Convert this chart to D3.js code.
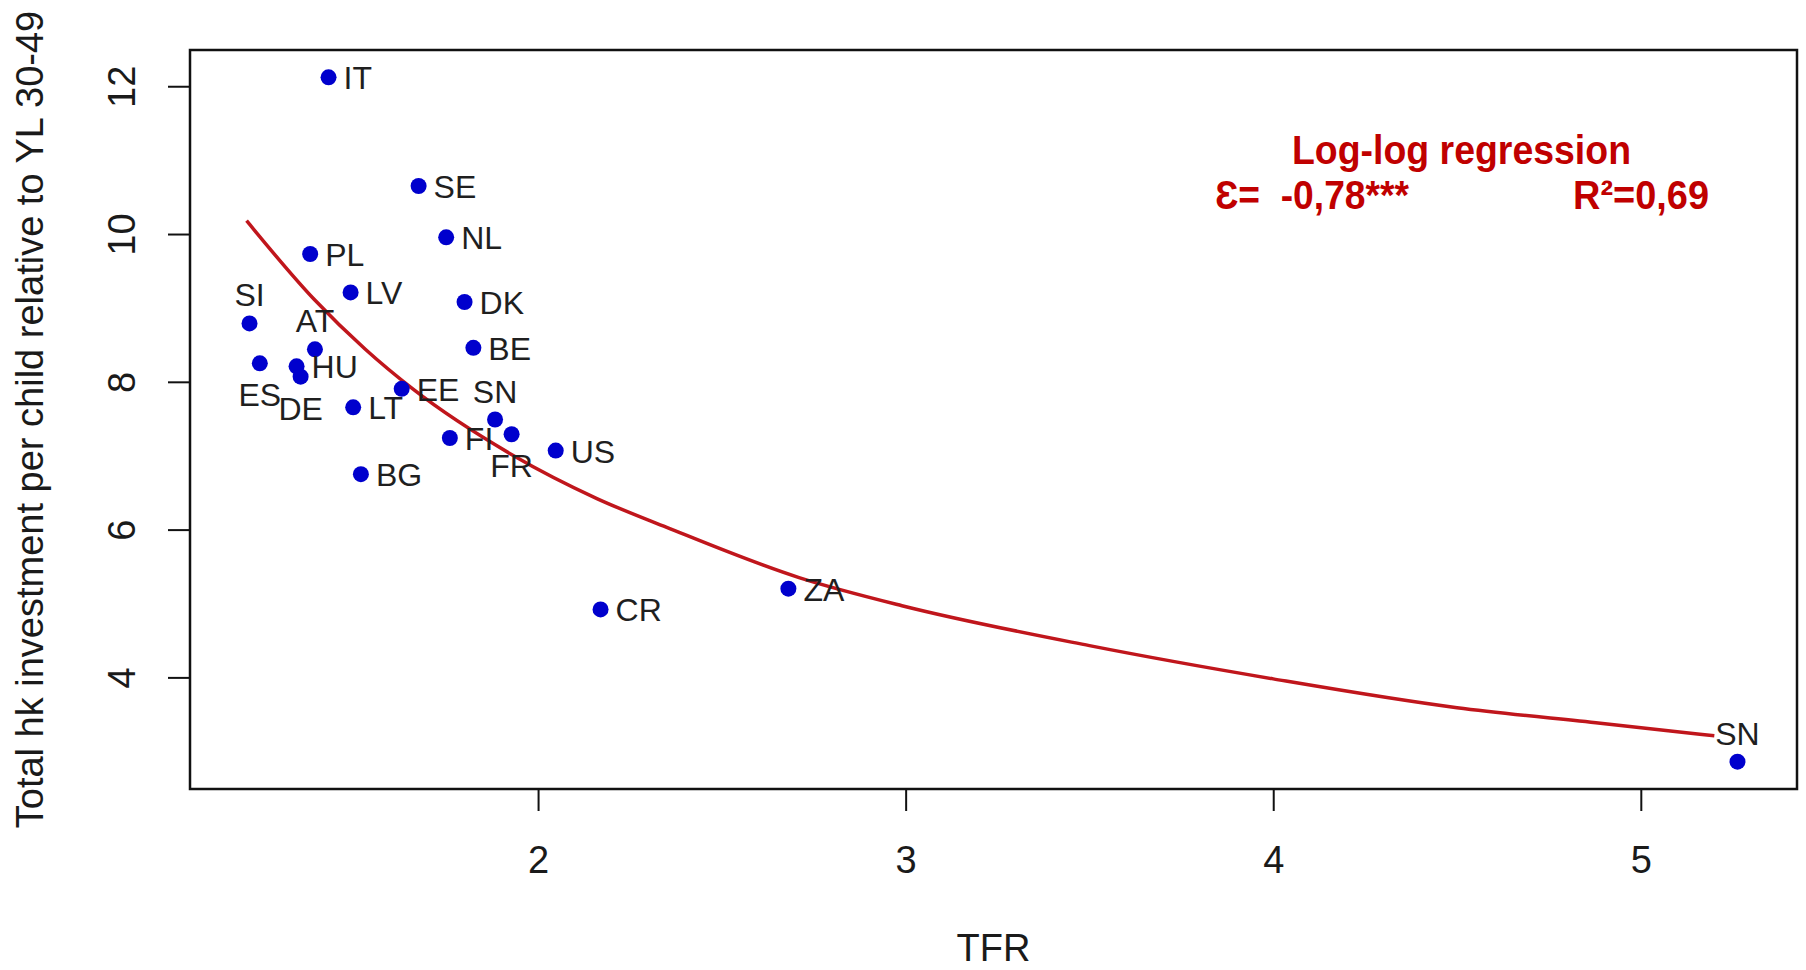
<!DOCTYPE html>
<html><head><meta charset="utf-8">
<script src="https://cdn.jsdelivr.net/npm/d3@7"></script>
<style>
html,body{margin:0;padding:0;background:#fff;}
svg{display:block;}
text{font-family:"Liberation Sans", Arial, sans-serif;}
</style></head><body>
<svg id="chart" width="1806" height="970"></svg>
<script>
// ---- data ----
const countries = ["IT","SE","NL","PL","LV","DK","SI","AT","BE","ES","HU","DE","EE","LT","SN","FR","FI","US","BG","CR","ZA","SN"];
const tfr = [1.43,1.675,1.75,1.38,1.49,1.80,1.215,1.393,1.824,1.243,1.343,1.354,1.629,1.497,1.883,1.928,1.76,2.048,1.518,2.17,2.681,5.263];
const investment = [12.12,10.65,9.955,9.73,9.21,9.08,8.79,8.44,8.46,8.25,8.21,8.07,7.905,7.655,7.49,7.29,7.24,7.07,6.75,4.92,5.20,2.86];
const labelSide = ["right","right","right","right","right","right","above","above","right","below","right","below","right","right","above","below","right","right","right","right","right","above"];
// fitted log-log regression curve, read at points along the drawn line
const fitTFR = [1.207,1.39,1.53,1.66,1.93,2.16,2.35,2.71,2.99,3.5,4.0,4.5,4.89,5.2];
const fitInvestment = [10.18,9.12,8.44,7.90,7.01,6.42,6.03,5.35,4.97,4.43,3.98,3.59,3.38,3.21];
const xTicks = [2,3,4,5];
const yTicks = [4,6,8,10,12];
const xLabel = "TFR";
const yLabel = "Total hk investment per child relative to YL 30-49";
const annoTitle = "Log-log regression";
const annoElasticity = "Ɛ=  -0,78***";
const annoR2 = "R²=0,69";

// ---- layout ----
const svg = d3.select("#chart");
const m = {left:190, right:1797, top:50, bottom:789};
function rExtend(arr){const lo=d3.min(arr),hi=d3.max(arr),d=(hi-lo)*0.04;return [lo-d,hi+d];}
const x = d3.scaleLinear().domain(rExtend(tfr)).range([m.left,m.right]);
const y = d3.scaleLinear().domain(rExtend(investment)).range([m.bottom,m.top]);

const axisFont = 38, labelFont = 32;

// x axis
const gx = svg.append("g").attr("transform",`translate(0,${m.bottom})`)
  .call(d3.axisBottom(x).tickValues(xTicks).tickSize(22).tickFormat(d3.format("d")));
gx.select(".domain").remove();
gx.selectAll("line").attr("stroke","#111").attr("stroke-width",2);
gx.selectAll("text").attr("y",84).attr("dy",null).attr("font-size",axisFont)
  .attr("fill","#1a1a1a").attr("font-family","Liberation Sans, Arial, sans-serif");

// y axis
const gy = svg.append("g").attr("transform",`translate(${m.left},0)`)
  .call(d3.axisLeft(y).tickValues(yTicks).tickSize(22).tickFormat(d3.format("d")));
gy.select(".domain").remove();
gy.selectAll("line").attr("stroke","#111").attr("stroke-width",2);
gy.selectAll("text").attr("x",null).attr("dy",null)
  .attr("transform","translate(-55,0) rotate(-90)")
  .attr("text-anchor","middle").attr("font-size",axisFont)
  .attr("fill","#1a1a1a").attr("font-family","Liberation Sans, Arial, sans-serif");

// box
svg.append("rect").attr("x",m.left).attr("y",m.top)
  .attr("width",m.right-m.left).attr("height",m.bottom-m.top)
  .attr("fill","none").attr("stroke","#111").attr("stroke-width",2.5);

// axis titles
svg.append("text").attr("x",(m.left+m.right)/2).attr("y",961)
  .attr("text-anchor","middle").attr("font-size",axisFont).attr("fill","#1a1a1a").text(xLabel);
svg.append("text").attr("transform",`translate(43,${(m.top+m.bottom)/2}) rotate(-90)`)
  .attr("text-anchor","middle").attr("font-size",axisFont).attr("fill","#1a1a1a").text(yLabel);

// regression curve
const fitData = fitTFR.map((t,i)=>({t, v:fitInvestment[i]}));
svg.append("path").datum(fitData)
  .attr("d", d3.line().x(d=>x(d.t)).y(d=>y(d.v)).curve(d3.curveMonotoneX))
  .attr("fill","none").attr("stroke","#c0161c").attr("stroke-width",3.5);

// points
const pts = countries.map((c,i)=>({c, t:tfr[i], v:investment[i], side:labelSide[i]}));
svg.append("g").selectAll("circle").data(pts).join("circle")
  .attr("cx",d=>x(d.t)).attr("cy",d=>y(d.v)).attr("r",8).attr("fill","#0000cd");

// labels
svg.append("g").selectAll("text").data(pts).join("text")
  .attr("font-size",labelFont).attr("fill","#1f1f1f")
  .attr("text-anchor",d=>d.side==="right"?"start":"middle")
  .attr("x",d=>d.side==="right"?x(d.t)+15:x(d.t))
  .attr("y",d=>d.side==="right"?y(d.v)+12:(d.side==="above"?y(d.v)-17:y(d.v)+43))
  .text(d=>d.c);

// annotation
const red = "#c00000";
svg.append("text").attr("x",1292).attr("y",164).attr("font-size",41).attr("font-weight","bold")
  .attr("fill",red).attr("textLength",339).attr("lengthAdjust","spacingAndGlyphs").text(annoTitle);
svg.append("text").attr("x",1215).attr("y",209).attr("font-size",41).attr("font-weight","bold")
  .attr("fill",red).style("white-space","pre").attr("textLength",194).attr("lengthAdjust","spacingAndGlyphs").text(annoElasticity);
svg.append("text").attr("x",1573).attr("y",209).attr("font-size",41).attr("font-weight","bold")
  .attr("fill",red).attr("textLength",136).attr("lengthAdjust","spacingAndGlyphs").text(annoR2);
</script>
</body></html>
